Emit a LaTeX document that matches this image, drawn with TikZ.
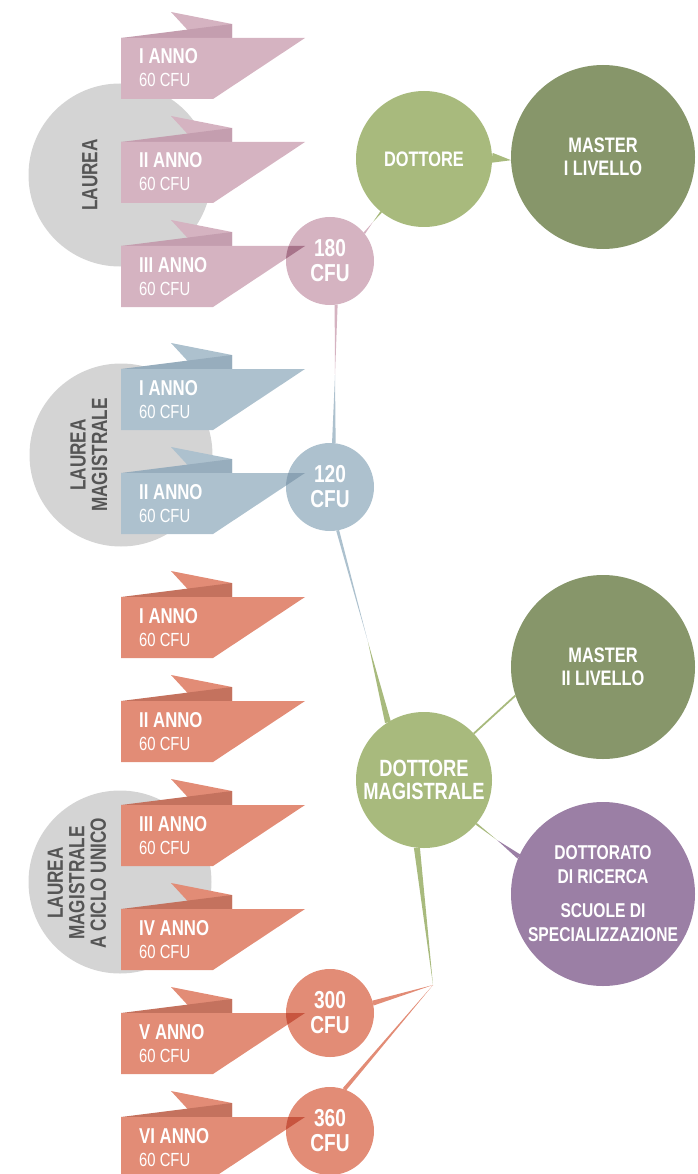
\documentclass[tikz,border=0pt]{standalone}
\usepackage{fontspec}
\setmainfont{Liberation Sans}
\newfontfamily\condfont[FakeStretch=0.78]{Liberation Sans}
\usetikzlibrary{calc}

\definecolor{pinkR}{HTML}{D5B3C1}
\definecolor{pinkD}{HTML}{C49EAF}
\definecolor{pinkO}{HTML}{A8738A}
\definecolor{blueR}{HTML}{ADC1CE}
\definecolor{blueD}{HTML}{97ADBD}
\definecolor{blueO}{HTML}{8AA2B4}
\definecolor{redR}{HTML}{E28C76}
\definecolor{redD}{HTML}{C4725E}
\definecolor{redO}{HTML}{C8553F}
\definecolor{greyC}{HTML}{D4D4D4}
\definecolor{greyT}{HTML}{555555}
\definecolor{greenL}{HTML}{A8BA7D}
\definecolor{greenD}{HTML}{87966A}
\definecolor{purpC}{HTML}{9B7FA5}

% folded ribbon: top edge, fill, fold
\newcommand{\ribbon}[3]{%
  \fill[#2] (171,#1-26) -- (232,#1-14) -- (232,#1) -- (195,#1) -- cycle;
  \fill[#3] (121,#1) -- (232,#1-14) -- (232,#1) -- cycle;
  \fill[#2] (121,#1) -- (305,#1) -- (213,#1+61) -- (121,#1+61) -- cycle;}

% tapered connector: colour, base, tip, half width
\newcommand{\taper}[4]{%
  \fill[#1] ($(#2)!#4!90:(#3)$) -- ($(#2)!#4!-90:(#3)$) -- (#3) -- cycle;}

\begin{document}
\begin{tikzpicture}[x=1pt,y=-1pt,
  bubble/.style={circle,inner sep=0pt,outer sep=0pt,text=white,align=center,
    font=\condfont\bfseries\fontsize{21}{23.5}\selectfont},
  cfubub/.style={bubble,minimum size=88pt,font=\condfont\bfseries\fontsize{24.5}{25}\selectfont},
  greybub/.style={circle,fill=greyC,minimum size=183pt,inner sep=0pt},
  greytext/.style={rotate=90,align=center,text=greyT,
    font=\condfont\bfseries\fontsize{22}{21.5}\selectfont},
  yeartext/.style={anchor=base west,inner sep=0pt,text=white,
    font=\condfont\bfseries\fontsize{21.5}{21.5}\selectfont},
  cfutext/.style={anchor=base west,inner sep=0pt,text=white,
    font=\condfont\fontsize{19}{19}\selectfont}]
  \useasboundingbox (0,0) rectangle (697,1174);
  \clip (0,0) rectangle (697,1174);

  % course circles
  \node[greybub] (laurea) at (120,175) {};
  \node[greybub] (magistrale) at (121,455) {};
  \node[greybub] (ciclo) at (120,882) {};
  \node[greytext] (tlaurea) at (90,175) {LAUREA};
  \node[greytext] (tmagistrale) at (89,455) {LAUREA\\MAGISTRALE};
  \node[greytext] (tciclo) at (77,883) {LAUREA\\MAGISTRALE\\A CICLO UNICO};

  % years
  \foreach \t/\lab/\col in {38/I ANNO/pink, 142/II ANNO/pink, 246/III ANNO/pink,
      369/I ANNO/blue, 473/II ANNO/blue,
      597/I ANNO/red, 701/II ANNO/red, 805/III ANNO/red,
      909/IV ANNO/red, 1013/V ANNO/red, 1117/VI ANNO/red} {
    \ribbon{\t}{\col R}{\col D}
    \node[yeartext] (yr\t) at (139,\t+26) {\lab};
    \node[cfutext] (cfu\t) at (139,\t+49) {60 CFU};
  }

  % title circles
  \node[cfubub,fill=pinkR] (c180) at (330,261) {180\\CFU};
  \node[cfubub,fill=blueR] (c120) at (330,487) {120\\CFU};
  \node[cfubub,fill=redR] (c300) at (330,1013) {300\\CFU};
  \node[cfubub,fill=redR] (c360) at (330,1131) {360\\CFU};
  \node[bubble,fill=greenL,minimum size=136pt] (dott) at (424,159) {DOTTORE};
  \node[bubble,fill=greenL,minimum size=136pt,font=\condfont\bfseries\fontsize{23.5}{23.5}\selectfont]
    (dmag) at (424,780) {DOTTORE\\MAGISTRALE};
  \node[bubble,fill=greenD,minimum size=184pt] (mast1) at (603,157) {MASTER\\I LIVELLO};
  \node[bubble,fill=greenD,minimum size=184pt] (mast2) at (603,667) {MASTER\\II LIVELLO};
  \node[bubble,fill=purpC,minimum size=184pt,font=\condfont\bfseries\fontsize{20}{24}\selectfont]
    (dottr) at (603,894) {DOTTORATO\\DI RICERCA\\[10pt]SCUOLE DI\\SPECIALIZZAZIONE};

  % connectors
  \coordinate (m1) at (335,375);
  \coordinate (m2) at (368,642);
  \coordinate (m3) at (373,222);
  \coordinate (m4) at (497,840);
  \coordinate (junc) at (433,985);
  \taper{greenL}{dott.1}{mast1.182}{5pt}
  \taper{pinkR}{c180.39}{m3}{1pt}
  \taper{greenL}{dott.-129}{m3}{1pt}
  \taper{pinkR}{c180.-82}{m1}{1.5pt}
  \taper{blueR}{c120.85}{m1}{1.8pt}
  \taper{blueR}{c120.-80}{m2}{1.5pt}
  \taper{greenL}{dmag.122}{m2}{3pt}
  \taper{greenL}{dmag.-40}{m4}{1pt}
  \taper{purpC}{dottr.156}{m4}{2.5pt}
  \taper{greenL}{dmag.-96}{junc}{3pt}
  \taper{redR}{c300.13}{junc}{2.5pt}
  \taper{redR}{c360.71}{junc}{2pt}
  \draw[greenL,line width=1.8pt] (dmag.43) -- (mast2.-162);

  % ribbon tips over the circles
  \foreach \t/\n/\col in {246/c180/pink, 473/c120/blue, 1013/c300/red, 1117/c360/red} {
    \begin{scope}
      \clip (\n.center) circle (44);
      \fill[\col O] (121,\t) -- (305,\t) -- (213,\t+61) -- (121,\t+61) -- cycle;
    \end{scope}
  }
\end{tikzpicture}
\end{document}
